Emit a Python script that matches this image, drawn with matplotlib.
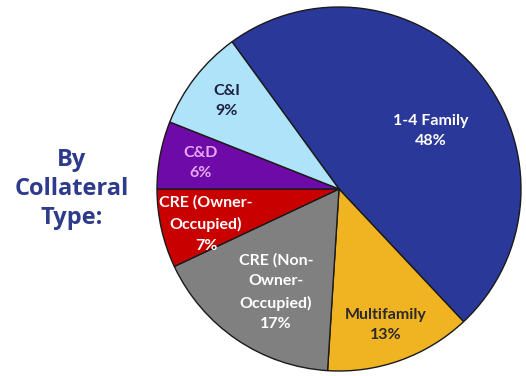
import matplotlib
matplotlib.use("Agg")
import matplotlib.pyplot as plt

# Data
categories = ["1-4 Family", "Multifamily", "CRE (Non-\nOwner-\nOccupied)", "CRE (Owner-\nOccupied)", "C&D", "C&I"]
shares = [48, 13, 17, 7, 6, 9]

# Style
colors = ["#2A389A", "#F0B322", "#808080", "#C80000", "#6E0AA8", "#AEE3FA"]
text_colors = ["white", "#2a2a2a", "white", "white", "#E6A8F5", "#1E2040"]
# label positions (pixels, y from top)
label_pos = [(431, 131), (386, 325), (276, 292), (206, 224), (201, 163), (227, 101)]

W, H = 526, 376
fig = plt.figure(figsize=(W / 100, H / 100), dpi=100)
ax = fig.add_axes([0, 0, 1, 1])

cx, cy, r = 339, H - 189, 182
ax.pie(shares, colors=colors, startangle=126, counterclock=False,
       center=(cx, cy), radius=r, frame=True,
       wedgeprops=dict(edgecolor="#1a1a1a", linewidth=1.0))
ax.set_xlim(0, W)
ax.set_ylim(0, H)
ax.set_aspect("equal")
ax.axis("off")

for cat, s, (x, y), tc in zip(categories, shares, label_pos, text_colors):
    ax.text(x, H - y, f"{cat}\n{s}%", ha="center", va="center", color=tc,
            fontsize=11.5, fontweight="bold", family="Lato", linespacing=1.62)

ax.text(72, H - 189, "By\nCollateral\nType:", ha="center", va="center",
        color="#2E3A8C", fontsize=17, fontweight="bold", family="Open Sans",
        linespacing=1.3)

fig.savefig("out.png", dpi=100, facecolor="white")
